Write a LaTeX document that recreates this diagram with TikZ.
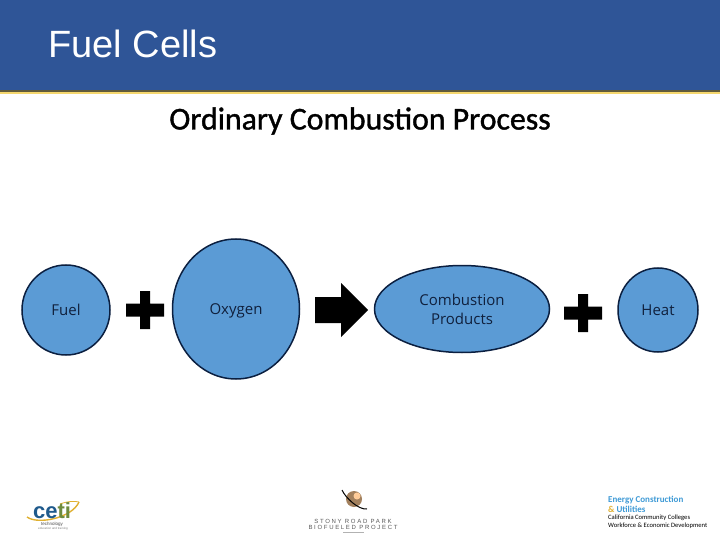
\documentclass[tikz,border=0pt]{standalone}
\usepackage{fontspec}
\setmainfont{Liberation Sans}
\newfontfamily\carl{Carlito}
\newfontfamily\carlfake[FakeBold=1.2]{Carlito}
\newfontfamily\opens{Open Sans}
\newfontfamily\spaced[LetterSpace=28]{Liberation Sans}
\usetikzlibrary{shapes.geometric}
\definecolor{bandblue}{HTML}{2F5597}
\definecolor{goldline}{HTML}{F5D76E}
\definecolor{darkgold}{HTML}{5F5A3C}
\definecolor{bubble}{HTML}{5B9BD5}
\definecolor{bubbleline}{HTML}{0B1F40}
\definecolor{labelink}{HTML}{10203C}
\definecolor{cetiblue}{HTML}{1F5A8C}
\definecolor{cetigreen}{HTML}{6E8B3D}
\definecolor{ecublue}{HTML}{3E9AD6}
\definecolor{ecugold}{HTML}{E0B030}
\newcommand{\lowered}[1]{\raisebox{-5.2pt}[0pt][0pt]{#1}}
\tikzset{
  bubblenode/.style={ellipse,draw=bubbleline,line width=1.5pt,fill=bubble,inner sep=0pt,
    font=\opens\fontsize{15}{19}\selectfont,text=labelink,align=center},
  symbolshape/.style={fill=black,draw=none},
  smalltext/.style={inner sep=0pt,text=black!65,font=\spaced\fontsize{6}{6}\selectfont},
}
\begin{document}
\begin{tikzpicture}[x=1pt,y=-1pt]
\useasboundingbox (0,0) rectangle (720,540);
\fill[white] (0,0) rectangle (720,540);
% header
\fill[bandblue] (0,0) rectangle (720,90);
\fill[darkgold] (0,90) rectangle (720,92);
\fill[goldline] (0,92) rectangle (720,94);
\node[anchor=west,inner sep=0pt,text=white,font=\fontsize{38}{40}\selectfont] (title) at (48,44) {Fuel Cells};
\node[inner sep=0pt,text=black,font=\carlfake\fontsize{31.8}{36}\selectfont] (sub) at (360,121) {Ordinary Combustion Process};
% bubbles
\node[bubblenode,minimum width=88pt,minimum height=90pt] (fuel) at (66,310) {\lowered{Fuel}};
\node[bubblenode,minimum width=127pt,minimum height=140pt] (oxy) at (236,309) {\lowered{Oxygen}};
\node[bubblenode,minimum width=175pt,minimum height=87pt] (prod) at (462,309) {Combustion\\Products};
\node[bubblenode,minimum width=80pt,minimum height=84pt] (heat) at (658,310) {\lowered{Heat}};
% plus signs
\foreach \cx/\cy in {145/310,583/313}{
  \fill[symbolshape] (\cx-19,\cy-6.5) -- (\cx-5,\cy-6.5) -- (\cx-5,\cy-19) -- (\cx+5,\cy-19) -- (\cx+5,\cy-6.5)
    -- (\cx+19,\cy-6.5) -- (\cx+19,\cy+6.5) -- (\cx+5,\cy+6.5) -- (\cx+5,\cy+19) -- (\cx-5,\cy+19)
    -- (\cx-5,\cy+6.5) -- (\cx-19,\cy+6.5) -- cycle;
}
% arrow
\fill[symbolshape] (315,297) -- (341,297) -- (341,283) -- (368,310) -- (341,337) -- (341,323) -- (315,323) -- cycle;
% ceti logo
\draw[ecugold,line width=1.4pt] (27,517) .. controls (38,525) and (72,518) .. (79,502);
\draw[ecugold,line width=.8pt] (60,504) .. controls (68,501) and (75,501) .. (79,502);
\node[inner sep=0pt,font=\bfseries\fontsize{22}{22}\selectfont] (ceti) at (52,511) {\textcolor{cetiblue}{ce}\textcolor{cetigreen}{ti}};
\node[inner sep=0pt,font=\fontsize{4.5}{5}\selectfont,text=black!70] (cetia) at (52,524.5) {technology};
\node[inner sep=0pt,font=\fontsize{3}{4}\selectfont,text=black!50] (cetib) at (53,529) {education and training};
% planet logo
\fill[brown!55!gray] (354,499) circle (8);
\fill[orange!40!white] (357,496) circle (3.5);
\draw[black,line width=1pt] (342,490) .. controls (345,497) and (358,510) .. (367,509);
\node[smalltext] (pa) at (353,521) {STONY ROAD PARK};
\node[smalltext] (pb) at (353,527.5) {BIOFUELED PROJECT};
\draw[black!30,line width=.5pt] (343,532) -- (364,532);
% right logo
\node[anchor=west,inner sep=0pt,font=\carl\bfseries\fontsize{9}{9}\selectfont,text=ecublue] (ea) at (608,500) {Energy Construction};
\node[anchor=west,inner sep=0pt,font=\carl\bfseries\fontsize{9}{9}\selectfont] (eb) at (608,509.5) {\textcolor{ecugold}{\&} \textcolor{ecublue}{Utilities}};
\node[anchor=west,inner sep=0pt,font=\carl\fontsize{6.6}{7}\selectfont,text=black] (ec) at (608,518) {California Community Colleges};
\node[anchor=west,inner sep=0pt,font=\carl\fontsize{6.6}{7}\selectfont,text=black] (ed) at (608,526) {Workforce \& Economic Development};
\end{tikzpicture}
\end{document}
